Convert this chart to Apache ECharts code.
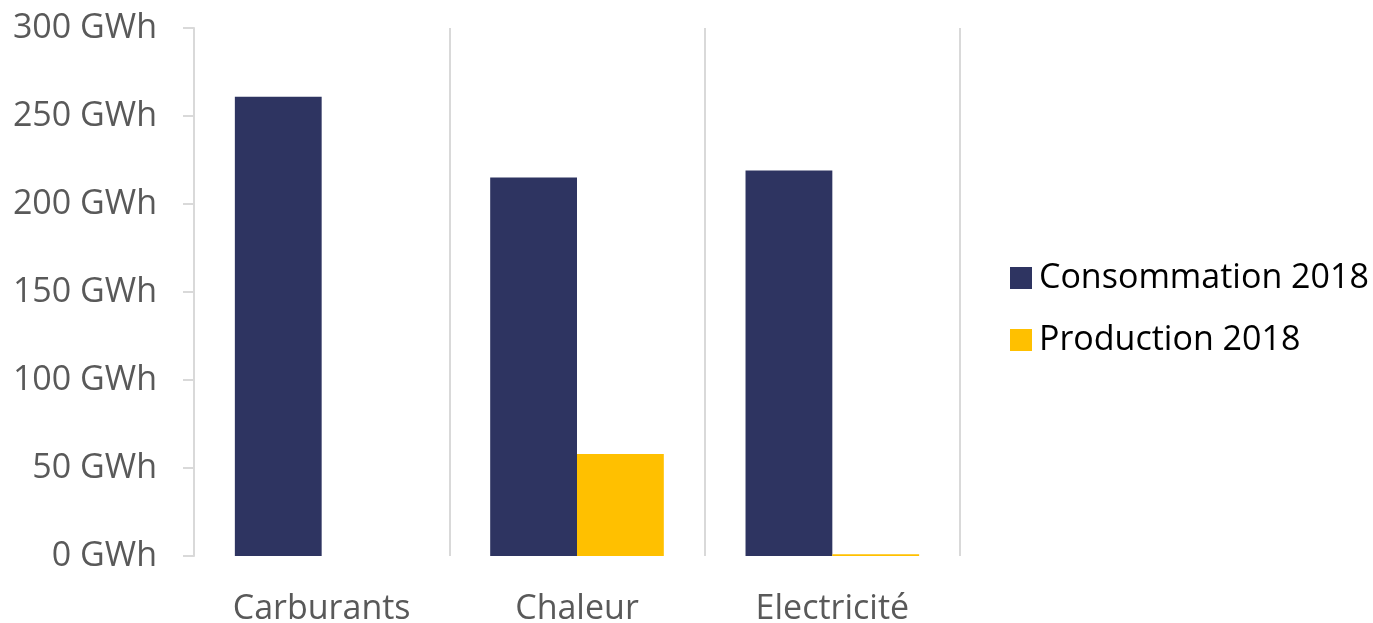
<!DOCTYPE html>
<html>
<head>
<meta charset="utf-8">
<script src="https://cdn.jsdelivr.net/npm/echarts@6/dist/echarts.min.js"></script>
<style>
  html, body { margin: 0; padding: 0; background: #ffffff; }
  #chart { width: 1373px; height: 623px; }
</style>
</head>
<body>
<div id="chart"></div>
<script>
// Energy balance by type, values in GWh
const categories = ['Carburants', 'Chaleur', 'Electricité'];
const consommation2018 = [261, 215, 219];
const production2018 = [0, 58, 1];
const seriesNames = ['Consommation 2018', 'Production 2018'];

const chart = echarts.init(document.getElementById('chart'));
const font = '"Open Sans", "Noto Sans", sans-serif';

chart.setOption({
  animation: false,
  textStyle: { fontFamily: font },
  grid: { left: 194, right: 413, top: 28, bottom: 67, outerBoundsMode: 'none', containLabel: false },
  legend: {
    orient: 'vertical',
    left: 1005,
    top: 256,
    itemWidth: 22,
    itemHeight: 22,
    itemGap: 28,
    icon: 'rect',
    textStyle: { fontSize: 34, color: '#000000', fontFamily: font, padding: [0, 0, 0, 2] },
    data: seriesNames
  },
  xAxis: {
    type: 'category',
    data: categories,
    axisLine: { show: false },
    axisTick: { show: false },
    axisLabel: { fontSize: 34, color: '#595959', margin: 36, fontFamily: font },
    splitLine: { show: true, lineStyle: { color: '#d9d9d9', width: 2 } }
  },
  yAxis: {
    type: 'value',
    min: 0,
    max: 300,
    interval: 50,
    axisLine: { show: true, lineStyle: { color: '#d9d9d9', width: 2 } },
    axisTick: { show: true, length: 11, lineStyle: { color: '#d9d9d9', width: 2 } },
    axisLabel: {
      fontSize: 34, color: '#595959', margin: 37, fontFamily: font,
      formatter: v => v + ' GWh'
    },
    splitLine: { show: false }
  },
  series: [
    {
      name: seriesNames[0],
      type: 'bar',
      data: consommation2018,
      itemStyle: { color: '#2e3461' },
      barGap: '0%',
      barCategoryGap: '32%'
    },
    {
      name: seriesNames[1],
      type: 'bar',
      data: production2018,
      itemStyle: { color: '#ffc000' },
      barGap: '0%',
      barCategoryGap: '32%'
    }
  ]
});
</script>
</body>
</html>
